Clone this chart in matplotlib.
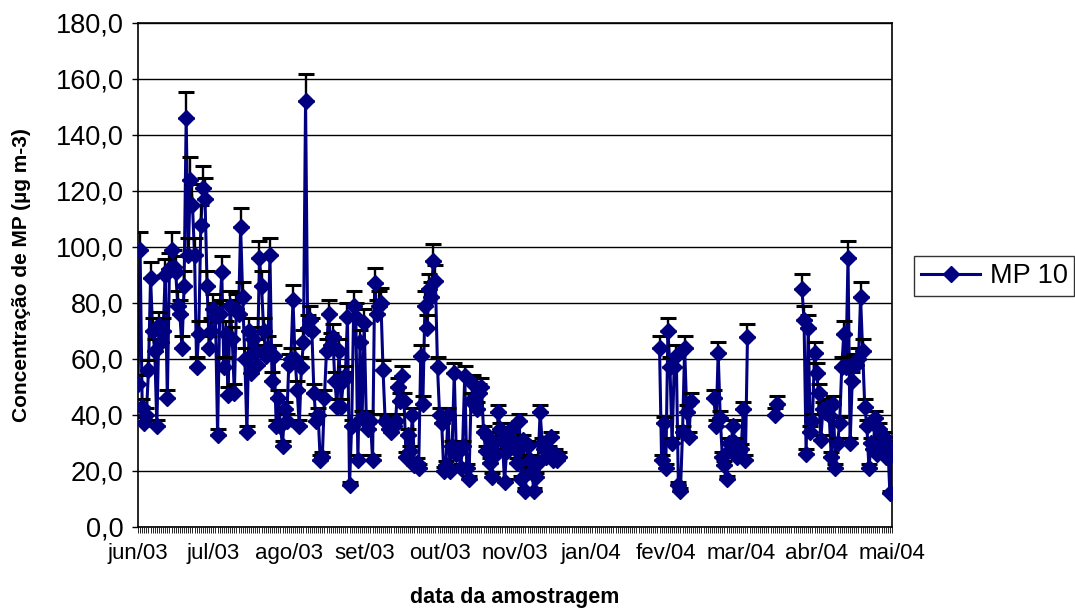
import numpy as np
import pandas as pd
import matplotlib
matplotlib.use('Agg')
import matplotlib.pyplot as plt
import matplotlib.dates as mdates
from matplotlib.lines import Line2D
from matplotlib.ticker import FixedLocator, FuncFormatter

plt.rcParams['font.family'] = ['Liberation Sans', 'DejaVu Sans']

# ---------------- data ----------------
serie_nome = 'MP 10'
data_inicial = '2003-06-01'
data_final = '2004-05-26'
inicio_periodos = ['2003-06-01', '2004-02-05', '2004-03-02', '2004-03-31', '2004-04-13']

mp10_p1 = [51, 99, 43, 37, 40, 56, 89, 70, 63, 36, 72, 66, 70, 90, 46, 92, 99, 93, 91, 79,
           76, 64, 86, 146, 97, 124, 115, 97, 57, 69, 108, 121, 117, 86, 64, 70, 78, 75, 33, 76,
           91, 57, 69, 47, 79, 67, 48, 78, 76, 107, 82, 60, 34, 70, 55, 67, 63, 58, 96, 86,
           70, 61, 64, 97, 52, 61, 36, 46, 36, 29, 42, 38, 58, 60, 81, 60, 49, 36, 57, 66,
           152, 71, 74, 70, 48, 38, 40, 24, 25, 46, 63, 76, 65, 68, 52, 43, 63, 43, 52, 54,
           75, 15, 36, 79, 75, 24, 66, 39, 73, 39, 35, 38, 24, 87, 76, 79, 80, 56, 38, 37,
           35, 34, 36, 38, 50, 45, 54, 45, 25, 33, 27, 40, 22, 23, 21, 61, 44, 79, 71, 85,
           82, 95, 88, 57, 40, 37, 20, 22, 40, 20, 29, 55, 26, 28, 21, 29, 54, 21, 17, 45,
           51, 44, 42, 48, 50, 34, 27, 32, 23, 18, 30, 26, 41, 35, 31, 16, 27, 32, 35, 30,
           28, 23, 38, 17, 31, 13, 29, 24, 20, 13, 18, 23, 41, 30, 28, 25, 27, 32, 24, 26,
           24, 25]
mp10_p2 = [64, 24, 37, 21, 70, 57, 30, 57, 61, 15, 13, 34, 64, 41, 32, 45]
mp10_p3 = [46, 36, 62, 39, 25, 22, 17, 30, 28, 36, 30, 25, 27, 28, 42, 24, 68]
mp10_p4 = [40, 44]
mp10_p5 = [85, 74, 26, 71, 34, 38, 62, 55, 48, 31, 42, 41, 43, 40, 25, 44, 21, 30, 37, 57,
           69, 57, 96, 30, 52, 58, 58, 60, 82, 63, 43, 36, 21, 30, 28, 39, 26, 35, 30, 32,
           25, 29, 12, 26]

erro_percentual = 6.5          # Excel-style "percentage" error bar (plus only)
rotulos_x = ['jun/03', 'jul/03', 'ago/03', 'set/03', 'out/03', 'nov/03',
             'jan/04', 'fev/04', 'mar/04', 'abr/04', 'mai/04']
intervalo_rotulos_dias = 36
y_ticks = [0, 20, 40, 60, 80, 100, 120, 140, 160, 180]
titulo_y = 'Concentração de MP (µg m-3)'
titulo_x = 'data da amostragem'

# ---------------- build daily series (blank days = gaps) ----------------
dias = pd.date_range(data_inicial, data_final, freq='D')
serie = pd.Series(np.nan, index=dias)
for ini, vals in zip(inicio_periodos, [mp10_p1, mp10_p2, mp10_p3, mp10_p4, mp10_p5]):
    d = pd.date_range(ini, periods=len(vals), freq='D')
    serie.loc[d] = vals

x = mdates.date2num(serie.index.to_pydatetime())
y = serie.values.astype(float)
erro = y * erro_percentual / 100.0

# ---------------- figure ----------------
W, H = 1075, 609
fig = plt.figure(figsize=(W / 100, H / 100), dpi=100)
L, R, T, B = 138, 892, 23, 527
ax = fig.add_axes([L / W, 1 - B / H, (R - L) / W, (B - T) / H])

navy = '#000080'
ax.plot(x, y, color=navy, lw=2.2, zorder=2, solid_joinstyle='round')
mask = ~np.isnan(y)
ax.errorbar(x[mask], y[mask], yerr=[np.zeros(mask.sum()), erro[mask]], fmt='none',
            ecolor='black', elinewidth=1.7, capsize=6, capthick=2.2, zorder=3)
ax.plot(x, y, ls='none', marker='D', ms=8.5, mfc=navy, mec=navy, zorder=4)

# x axis: category-like axis, one tick per day, label every 36 days
t0 = pd.Timestamp(data_inicial)
pos_rot = [mdates.date2num((t0 + pd.Timedelta(days=intervalo_rotulos_dias * i)).to_pydatetime())
           for i in range(len(rotulos_x))]
ax.set_xlim(x[0], x[-1])
ax.xaxis.set_major_locator(FixedLocator(pos_rot))
ax.set_xticklabels(rotulos_x)
ax.xaxis.set_minor_locator(FixedLocator(x))
ax.tick_params(axis='x', which='both', direction='out', length=4.5, width=0.6,
               colors='black', labelsize=16, pad=7)

# y axis
ax.set_ylim(0, 180)
ax.set_yticks(y_ticks)
ax.yaxis.set_major_formatter(FuncFormatter(lambda v, p: f'{v:.1f}'.replace('.', ',')))
ax.tick_params(axis='y', which='major', direction='out', length=4.5, width=1.0,
               labelsize=19.5, pad=6)
ax.yaxis.grid(True, color='black', lw=1.0)
ax.set_axisbelow(True)
for sp in ax.spines.values():
    sp.set_color('black')
    sp.set_linewidth(1.2)

fig.text(22 / W, 1 - (T + B) / 2 / H, titulo_y, rotation=90, ha='center', va='center',
         fontsize=15, fontweight='bold')
fig.text((L + R) / 2 / W, 1 - 597 / H, titulo_x, ha='center', va='center',
         fontsize=15.5, fontweight='bold')

h = Line2D([], [], color=navy, lw=2.2, marker='D', ms=8.5, mfc=navy, mec=navy)
leg = fig.legend([h], [serie_nome], loc='center left',
                 bbox_to_anchor=(914 / W, 1 - 276 / H), frameon=True, fancybox=False,
                 edgecolor='black', fontsize=19.5, handlelength=2.2, borderpad=0.25,
                 handletextpad=0.35, borderaxespad=0)
leg.get_frame().set_linewidth(1.0)

fig.savefig('out.png', dpi=100)
